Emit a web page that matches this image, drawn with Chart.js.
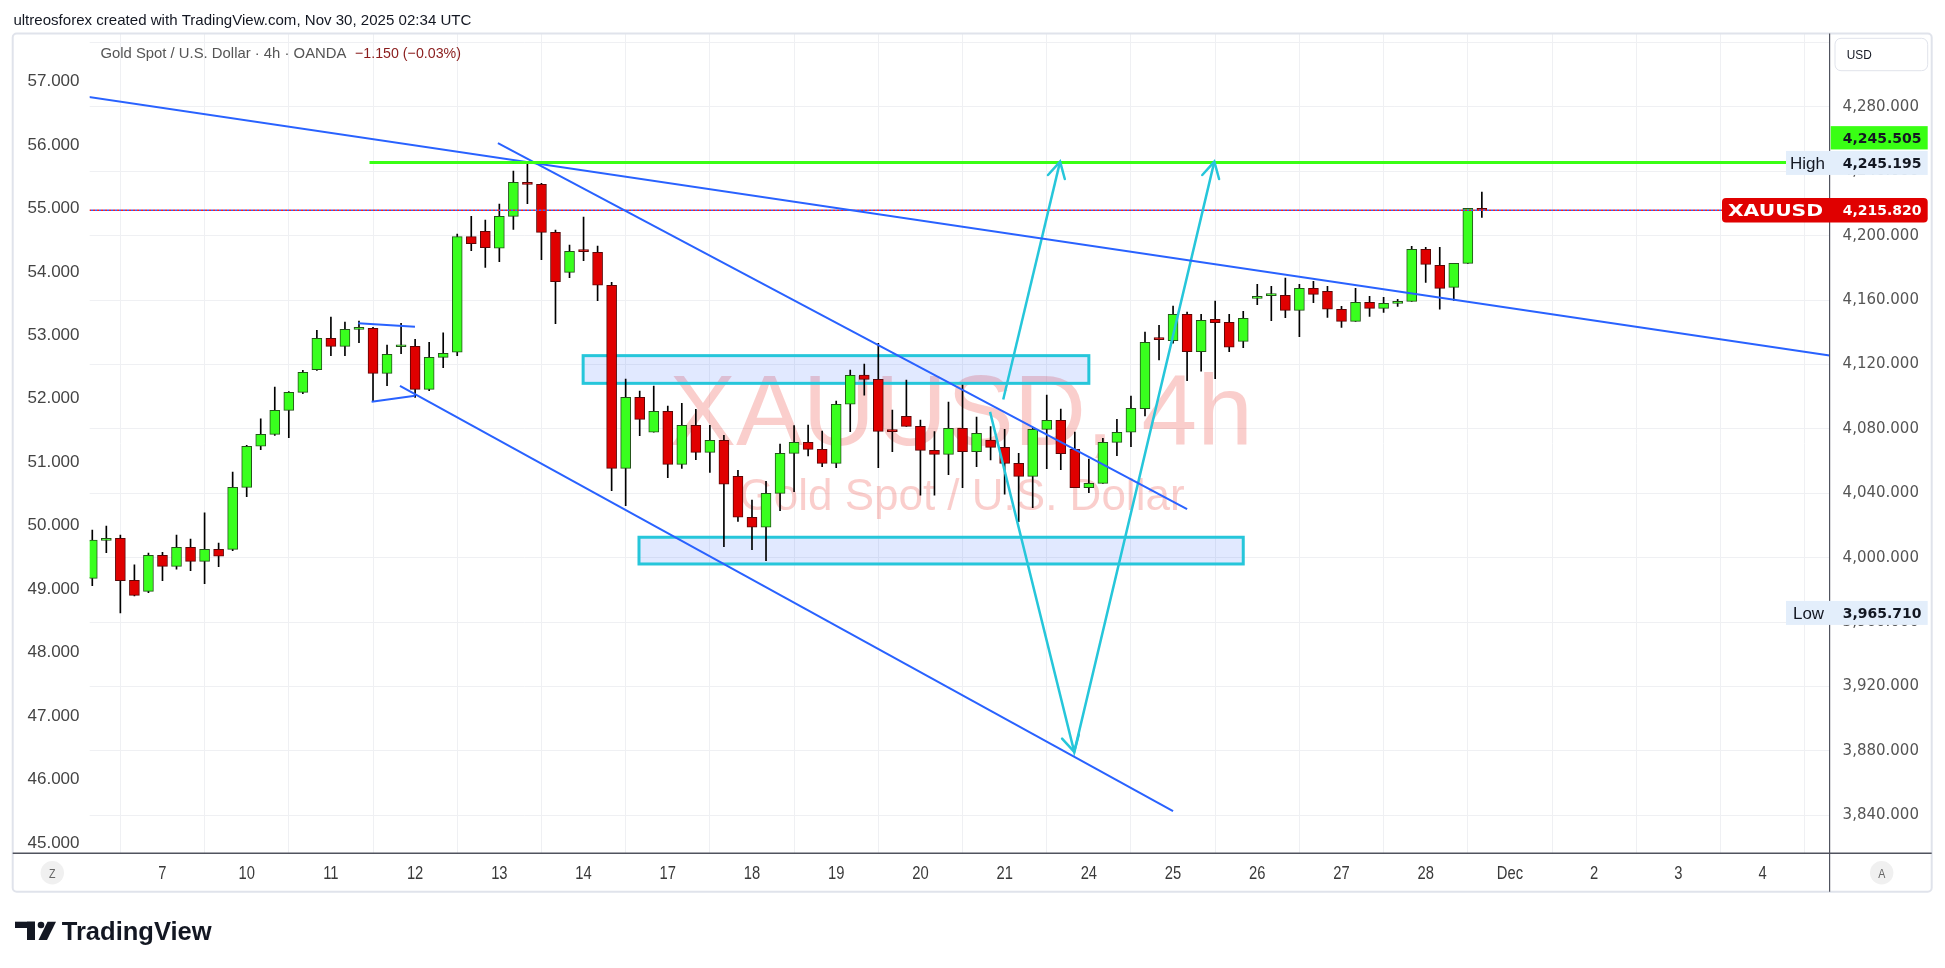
<!DOCTYPE html>
<html><head><meta charset="utf-8">
<script src="https://cdn.jsdelivr.net/npm/chart.js@4.4.1/dist/chart.umd.min.js"></script>
<style>html,body{margin:0;padding:0;background:#fff;overflow:hidden}canvas{display:block}</style>
</head><body>
<canvas id="c" width="1945" height="968" style="width:1945px;height:968px"></canvas>
<script>
// ---- Candles (4h, XAUUSD), index = candle number ----
const opens = [3987.2,4010.8,4012.0,3985.9,3979.1,4001.5,3994.6,4006.4,3997.7,4005.2,
4005.2,4043.7,4069.2,4076.6,4091.5,4102.7,4116.8,4136.2,4131.3,4141.8,
4142.5,4114.5,4131.0,4131.3,4104.6,4124.4,4127.6,4199.4,4202.7,4192.2,
4212.0,4233.1,4231.9,4202.1,4177.2,4190.5,4189.7,4169.2,4055.5,4099.6,
4077.9,4090.9,4058.0,4082.2,4065.4,4072.9,4050.5,4025.1,4018.9,4040.0,
4064.8,4071.7,4067.3,4058.6,4095.3,4113.5,4110.8,4078.8,4087.8,4081.6,
4066.7,4064.2,4080.3,4065.8,4073.1,4068.5,4058.6,4050.5,4079.7,4085.3,
4067.3,4043.5,4046.2,4071.6,4077.9,4092.6,4135.9,4134.8,4151.2,4128.0,
4148.1,4146.2,4134.4,4161.1,4162.8,4163.0,4153.6,4167.3,4165.4,4154.3,
4146.8,4158.6,4154.9,4158.0,4159.2,4191.5,4181.6,4167.9,4182.8,4216.97];
const highs = [4017.2,4019.7,4014.1,3995.5,4002.9,4003.3,4014.1,4011.6,4027.8,4009.1,
4053.2,4069.8,4086.2,4106.0,4103.2,4116.4,4141.2,4149.5,4146.4,4147.0,
4143.1,4132.1,4145.6,4135.6,4133.8,4139.6,4201.0,4212.0,4209.7,4219.7,
4240.2,4245.195,4232.5,4203.5,4194.2,4211.6,4193.6,4171.0,4111.0,4103.5,
4106.6,4094.2,4095.9,4092.2,4082.2,4076.0,4054.3,4035.8,4047.4,4070.6,
4082.0,4082.4,4078.7,4097.3,4116.6,4120.3,4133.1,4091.7,4110.4,4085.5,
4078.3,4096.7,4107.2,4087.4,4081.4,4079.7,4064.8,4081.0,4101.0,4092.3,
4078.1,4061.3,4074.1,4085.9,4100.4,4140.2,4144.3,4156.3,4152.6,4151.2,
4159.4,4151.2,4153.0,4169.8,4168.6,4173.7,4169.8,4171.7,4168.6,4156.1,
4167.3,4162.3,4161.7,4160.5,4193.4,4192.8,4192.8,4182.8,4217.0,4227.1];
const lows = [3982.6,4003.1,3965.71,3976.3,3978.3,3985.7,3992.8,3992.0,3983.9,3994.4,
4004.4,4037.9,4067.1,4076.0,4074.6,4101.9,4116.4,4125.5,4125.5,4133.6,
4096.9,4106.9,4126.7,4099.6,4103.8,4118.0,4125.5,4190.7,4180.3,4183.9,
4203.9,4219.9,4185.1,4145.4,4173.9,4184.5,4159.6,4041.6,4032.3,4075.8,
4077.9,4049.7,4055.5,4060.9,4053.0,4006.9,4022.6,4005.0,3998.2,4029.2,
4041.0,4063.2,4056.5,4055.9,4078.3,4101.0,4055.9,4065.8,4081.6,4038.9,
4038.9,4051.6,4043.5,4056.5,4060.7,4039.5,4022.4,4031.1,4055.3,4054.7,
4043.5,4040.4,4046.2,4063.4,4068.9,4088.0,4122.8,4133.2,4110.0,4115.8,
4111.2,4128.0,4130.5,4157.2,4147.2,4149.1,4137.3,4158.4,4149.3,4143.1,
4146.8,4149.9,4152.4,4156.1,4159.2,4171.0,4154.3,4159.8,4182.8,4211.4];
const closes = [4011.0,4012.0,3985.7,3976.6,4001.5,3994.6,4006.4,3997.7,4005.2,4000.9,
4043.7,4069.2,4076.6,4091.5,4102.7,4115.1,4136.2,4131.3,4141.8,4142.2,
4114.5,4126.3,4131.5,4104.6,4124.4,4126.9,4199.4,4195.1,4192.6,4212.0,
4233.1,4231.9,4202.1,4171.5,4190.3,4190.1,4169.2,4055.5,4099.6,4085.9,
4090.9,4058.0,4082.2,4065.4,4072.9,4045.6,4025.1,4018.9,4040.0,4064.8,
4071.7,4067.3,4058.6,4095.3,4113.3,4110.8,4078.5,4078.3,4081.6,4066.7,
4064.2,4080.3,4065.8,4077.2,4068.5,4058.6,4050.5,4079.7,4085.3,4064.6,
4043.5,4046.2,4071.6,4077.9,4092.8,4133.8,4135.5,4151.2,4128.0,4147.4,
4146.0,4130.7,4148.7,4162.3,4163.1,4153.6,4167.3,4163.6,4154.3,4146.8,
4158.6,4154.9,4158.0,4158.6,4191.5,4182.2,4167.3,4182.8,4217.0,4215.82];

// ---- Axes ----
const timeTickIdx = [5,11,17,23,29,35,41,47,53,59,65,71,77,83,89,95,101,107,113,119];
const timeTickLabels = ['7','10','11','12','13','14','17','18','19','20','21','24','25','26','27','28','Dec','2','3','4'];
const priceTicks = [3840,3880,3920,3960,4000,4040,4080,4120,4160,4200,4240,4280,4320];
const priceLabelMax = 4280;
const leftTicks = [45,46,47,48,49,50,51,52,53,54,55,56,57];

// ---- Drawings ----
const greenLevel = 4245.505;
const trendTop = [{x:-1.8,y:4288.2},{x:123.775,y:4125.6}];
const greenLine = [{x:19.75,y:greenLevel},{x:123.775,y:greenLevel}];
const channelUpper = [{x:28.9,y:4257.5},{x:78.0,y:4030.2}];
const channelLower = [{x:21.92,y:4106.8},{x:77.0,y:3842.6}];
const pennantTop = [{x:18.95,y:4145.6},{x:22.99,y:4143.5}];
const pennantBottom = [{x:19.9,y:4096.9},{x:22.99,y:4100.6}];
const arrowA = [{x:64.9,y:4098.3},{x:68.95,y:4246.0}];
const arrowB = [{x:63.96,y:4090.6},{x:69.96,y:3879.4},{x:79.94,y:4246.0}];
const zoneUpper = [34.97, 71.0, 4125.5, 4108.3];
const zoneLower = [38.95, 82.0, 4012.7, 3996.1];

const lastClose = closes[closes.length-1];
const highVal = Math.max(...highs);
const lowVal = Math.min(...lows);
const fmt = v => v.toLocaleString('en-US',{minimumFractionDigits:3,maximumFractionDigits:3});

const UP='#39FF1E', UPB='#24541a', DN='#E00000', DNB='#5c0606';
const isUp = opens.map((o,i)=>closes[i]>=o);
const bodies = opens.map((o,i)=>({x:i,y:[o,closes[i]]}));
const wicks = highs.map((h,i)=>({x:i,y:[lows[i],h]}));
const priceLine = [{x:-1.8,y:lastClose},{x:123.775,y:lastClose}];

function txt(ctx,s,x,y,font,color,align,opt){
  ctx.save();ctx.font=font;ctx.fillStyle=color;ctx.textBaseline='alphabetic';ctx.textAlign='left';
  const w=ctx.measureText(s).width;let sx=1;
  if(opt&&opt.width)sx=opt.width/w;else if(opt&&opt.sx)sx=opt.sx;
  const tw=w*sx;const x0=align==='center'?x-tw/2:align==='right'?x-tw:x;
  ctx.translate(x0,y);ctx.scale(sx,1);ctx.fillText(s,0,0);ctx.restore();
}
function rrect(ctx,x,y,w,h,r){ctx.beginPath();if(ctx.roundRect)ctx.roundRect(x,y,w,h,r);else ctx.rect(x,y,w,h);}
function head(ctx,p0,p1,len,ang){
  const a=Math.atan2(p1.y-p0.y,p1.x-p0.x);
  ctx.beginPath();
  ctx.moveTo(p1.x-len*Math.cos(a-ang),p1.y-len*Math.sin(a-ang));
  ctx.lineTo(p1.x,p1.y);
  ctx.lineTo(p1.x-len*Math.cos(a+ang),p1.y-len*Math.sin(a+ang));
  ctx.stroke();
}

const overlay = {
  id:'overlay',
  beforeDatasetsDraw(chart){
    const {ctx,chartArea:a,scales:{x,y}}=chart;
    ctx.save();ctx.beginPath();ctx.rect(a.left,a.top,a.right-a.left,a.bottom-a.top);ctx.clip();
    txt(ctx,'XAUUSD, 4h',961,445,'100px "Liberation Sans"','rgba(235,60,50,0.25)','center');
    txt(ctx,'Gold Spot / U.S. Dollar',962,510,'44px "Liberation Sans"','rgba(235,60,50,0.25)','center');
    for(const z of [zoneUpper,zoneLower]){
      const x0=x.getPixelForValue(z[0]),x1=x.getPixelForValue(z[1]);
      const y0=y.getPixelForValue(z[2]),y1=y.getPixelForValue(z[3]);
      ctx.fillStyle='rgba(41,98,255,0.14)';ctx.fillRect(x0,y0,x1-x0,y1-y0);
      ctx.strokeStyle='#26C6DA';ctx.lineWidth=3;ctx.strokeRect(x0,y0,x1-x0,y1-y0);
    }
    ctx.restore();
  },
  afterDatasetsDraw(chart){
    const {ctx,scales:{x,y}}=chart;
    const P=p=>({x:x.getPixelForValue(p.x),y:y.getPixelForValue(p.y)});
    ctx.save();ctx.strokeStyle='#26C6DA';ctx.lineWidth=2.5;ctx.lineCap='round';
    head(ctx,P(arrowA[0]),P(arrowA[1]),18,0.5);
    head(ctx,P(arrowB[0]),P(arrowB[1]),18,0.5);
    head(ctx,P(arrowB[1]),P(arrowB[2]),18,0.5);
    ctx.restore();
  },
  afterDraw(chart){
    const {ctx,chartArea:a,scales:{x,y,yL}}=chart;
    ctx.save();
    // frame
    ctx.strokeStyle='#E0E3EB';ctx.lineWidth=2;rrect(ctx,12.7,33.5,1919,858.2,4);ctx.stroke();
    ctx.strokeStyle='#50535E';ctx.lineWidth=1.5;
    ctx.beginPath();ctx.moveTo(12.7,a.bottom);ctx.lineTo(1931.7,a.bottom);ctx.stroke();
    ctx.lineWidth=1.2;ctx.beginPath();ctx.moveTo(a.right,33.5);ctx.lineTo(a.right,891.7);ctx.stroke();
    // time ticks
    x.ticks.forEach((t,k)=>{
      const px=x.getPixelForValue(t.value);
      txt(ctx,timeTickLabels[k],px,879.3,'18px "Liberation Sans"','#3a3a3a','center',{sx:0.82});
    });
    // left ticks
    yL.ticks.forEach(t=>{
      const py=yL.getPixelForValue(t.value);
      txt(ctx,t.value.toFixed(3),79.5,py+6.1,'17px "Liberation Sans"','#444','right');
    });
    // header / legend / logo
    txt(ctx,'ultreosforex created with TradingView.com, Nov 30, 2025 02:34 UTC',13.4,25,'15px "Liberation Sans"','#131722','left',{width:458});
    txt(ctx,'Gold Spot / U.S. Dollar · 4h · OANDA',100.4,58.3,'15px "Liberation Sans"','#555','left',{width:246});
    txt(ctx,'−1.150 (−0.03%)',355,58.3,'15px "Liberation Sans"','#8a1c1c','left',{width:106});
    // logo
    ctx.fillStyle='#131722';
    ctx.fillRect(15,921.7,20,6.3);ctx.fillRect(27,921.7,8,18.3);
    ctx.beginPath();ctx.arc(41,925,3.3,0,Math.PI*2);ctx.fill();
    ctx.beginPath();ctx.moveTo(47.5,921.7);ctx.lineTo(56,921.7);ctx.lineTo(47,940);ctx.lineTo(38.5,940);ctx.closePath();ctx.fill();
    txt(ctx,'TradingView',61.7,940,'bold 25px "Liberation Sans"','#131722','left',{width:150});
    // USD box
    ctx.fillStyle='#fff';ctx.strokeStyle='#E0E3EB';ctx.lineWidth=1;rrect(ctx,1835,38.3,92.7,32.4,6);ctx.fill();ctx.stroke();
    txt(ctx,'USD',1846.7,59,'13px "Liberation Sans"','#131722','left',{width:25});
    // Z / A buttons
    ctx.fillStyle='#F0F0F0';
    ctx.beginPath();ctx.arc(52.3,872.7,11.7,0,Math.PI*2);ctx.fill();
    ctx.beginPath();ctx.arc(1881.7,872.7,11.7,0,Math.PI*2);ctx.fill();
    txt(ctx,'Z',52.3,877.5,'13px "Liberation Sans"','#666','center',{sx:0.82});
    txt(ctx,'A',1881.7,877.5,'13px "Liberation Sans"','#666','center',{sx:0.82});
    // labels on price axis
    const yH=y.getPixelForValue(highVal), yLo=y.getPixelForValue(lowVal), yC=y.getPixelForValue(lastClose);
    const vFont='bold 14px "DejaVu Sans"';
    ctx.fillStyle='#39FF14';ctx.fillRect(1830.7,yH-36.8,97,23.3);
    txt(ctx,fmt(greenLevel),1842.7,yH-20,vFont,'#131722','left');
    ctx.fillStyle='#E3EEFB';ctx.fillRect(1786,yH-12,141.7,24);
    txt(ctx,'High',1790,yH+6,'16px "Liberation Sans"','#131722','left',{width:35});
    txt(ctx,fmt(highVal),1842.7,yH+5.2,vFont,'#131722','left');
    ctx.fillStyle='#E3EEFB';ctx.fillRect(1786,yLo-12,141.7,24);
    txt(ctx,'Low',1793,yLo+6,'16px "Liberation Sans"','#131722','left',{width:31});
    txt(ctx,fmt(lowVal),1842.7,yLo+5.2,vFont,'#131722','left');
    ctx.fillStyle='#E00000';rrect(ctx,1722,yC-12.2,205.7,24.4,4);ctx.fill();
    txt(ctx,'XAUUSD',1728,yC+6,'bold 16px "DejaVu Sans"','#fff','left',{width:95});
    txt(ctx,fmt(lastClose),1842.7,yC+5.2,vFont,'#fff','left');
    ctx.restore();
  }
};

const lineDS=(data,color,w,extra)=>Object.assign({type:'line',data,borderColor:color,borderWidth:w,pointRadius:0,fill:false,tension:0,xAxisID:'x',yAxisID:'y',order:1},extra||{});

new Chart(document.getElementById('c'),{
  type:'bar',
  data:{datasets:[
    {type:'bar',data:wicks,backgroundColor:'#000',borderWidth:0,barThickness:1,grouped:false,clip:0,order:6,xAxisID:'x',yAxisID:'y'},
    {type:'bar',data:bodies,backgroundColor:isUp.map(u=>u?UP:DN),borderColor:isUp.map(u=>u?UPB:DNB),borderWidth:1,borderSkipped:false,barThickness:10,minBarLength:2,grouped:false,clip:0,order:5,xAxisID:'x',yAxisID:'y'},
    lineDS(priceLine,'#2962FF',1.5,{borderDash:[2,2],order:4}),
    lineDS(priceLine,'#FF1A1A',1.5,{borderDash:[2,2],borderDashOffset:2,order:3}),
    lineDS(trendTop,'#2962FF',2),
    lineDS(channelUpper,'#2962FF',2),
    lineDS(channelLower,'#2962FF',2),
    lineDS(pennantTop,'#2962FF',2),
    lineDS(pennantBottom,'#2962FF',2),
    lineDS(greenLine,'#39FF14',3,{order:0}),
    lineDS(arrowA,'#26C6DA',2.5),
    lineDS(arrowB,'#26C6DA',2.5)
  ]},
  options:{
    responsive:false,animation:false,events:[],
    layout:{padding:{left:12.7,right:13,top:34,bottom:76.3}},
    plugins:{legend:{display:false},tooltip:{enabled:false}},
    scales:{
      x:{type:'linear',position:'bottom',min:-0.185,max:123.775,offset:false,
        grid:{color:'#EFF0F3',drawTicks:false},border:{display:false},ticks:{display:false},
        afterBuildTicks:s=>{s.ticks=timeTickIdx.map(v=>({value:v}));},
        afterFit:s=>{s.height=38.4;}},
      yL:{type:'linear',position:'left',min:44.8173,max:57.7247,
        grid:{display:false,drawTicks:false},border:{display:false},ticks:{display:false},
        afterBuildTicks:s=>{s.ticks=leftTicks.map(v=>({value:v}));},
        afterFit:s=>{s.width=77;}},
      y:{type:'linear',position:'right',min:3816.4,max:4325.28,
        grid:{color:'#EFF0F3',drawTicks:false},border:{display:false},
        ticks:{autoSkip:false,padding:13,color:'#555',font:{family:'"DejaVu Sans"',size:15},callback:v=>v<=priceLabelMax?fmt(v):''},
        afterBuildTicks:s=>{s.ticks=priceTicks.map(v=>({value:v}));},
        afterFit:s=>{s.width=102.4;}}
    }
  },
  plugins:[overlay]
});
</script></body></html>
